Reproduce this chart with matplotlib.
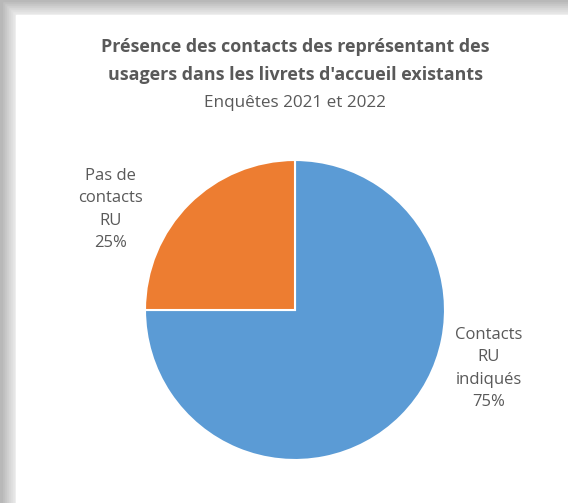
import matplotlib
matplotlib.use("Agg")
import matplotlib.pyplot as plt
from matplotlib.patches import Rectangle

# Data
categories = ["Contacts\nRU\nindiqués", "Pas de\ncontacts\nRU"]
shares = [75, 25]
colors = ["#5B9BD5", "#ED7D31"]

plt.rcParams['font.family'] = ['Open Sans', 'DejaVu Sans']
text_color = "#595959"

W, H = 568, 503
fig = plt.figure(figsize=(W / 100, H / 100), dpi=100)
fig.patch.set_facecolor("white")

# Card shadow on left and top edges
shades = ["#ececec", "#e6e6e6", "#dfdfdf", "#d8d8d8", "#d0d0d0", "#c8c8c8", "#c0c0c0", "#b8b8b8"]
n = len(shades)
for i, c in enumerate(shades):
    off = 16 * (1 - i / n)
    fig.patches.append(Rectangle((0, 0), off / W, 1, transform=fig.transFigure, color=c, zorder=0))
    fig.patches.append(Rectangle((0, 1 - (off - 1) / H), 1, (off - 1) / H, transform=fig.transFigure, color=c, zorder=0))
fig.patches.append(Rectangle((16 / W, 0), 1, 1 - 15 / H, transform=fig.transFigure, color="white", zorder=0.5))

# Titles
fig.text(295 / W, 1 - 47 / H, "Présence des contacts des représentant des",
         ha="center", va="center", fontsize=12.9, fontweight="bold", color=text_color)
fig.text(295 / W, 1 - 75 / H, "usagers dans les livrets d'accueil existants",
         ha="center", va="center", fontsize=12.9, fontweight="bold", color=text_color)
fig.text(295 / W, 1 - 103 / H, "Enquêtes 2021 et 2022",
         ha="center", va="center", fontsize=12.3, color=text_color)

# Pie
ax = fig.add_axes([145 / W, (H - 460) / H, 300 / W, 300 / H])
ax.set_zorder(2)
ax.pie(shares, colors=colors, startangle=90, counterclock=False,
       wedgeprops=dict(edgecolor="white", linewidth=1.5))
ax.set_aspect("equal")
ax.set_xlim(-1, 1)
ax.set_ylim(-1, 1)

label_pos = [(1.29, -0.39), (-1.23, 0.67)]
for cat, s, (x, y) in zip(categories, shares, label_pos):
    ax.text(x, y, f"{cat}\n{s}%", ha="center", va="center", fontsize=12,
            color=text_color, linespacing=1.55)

fig.savefig("out.png", dpi=100)
